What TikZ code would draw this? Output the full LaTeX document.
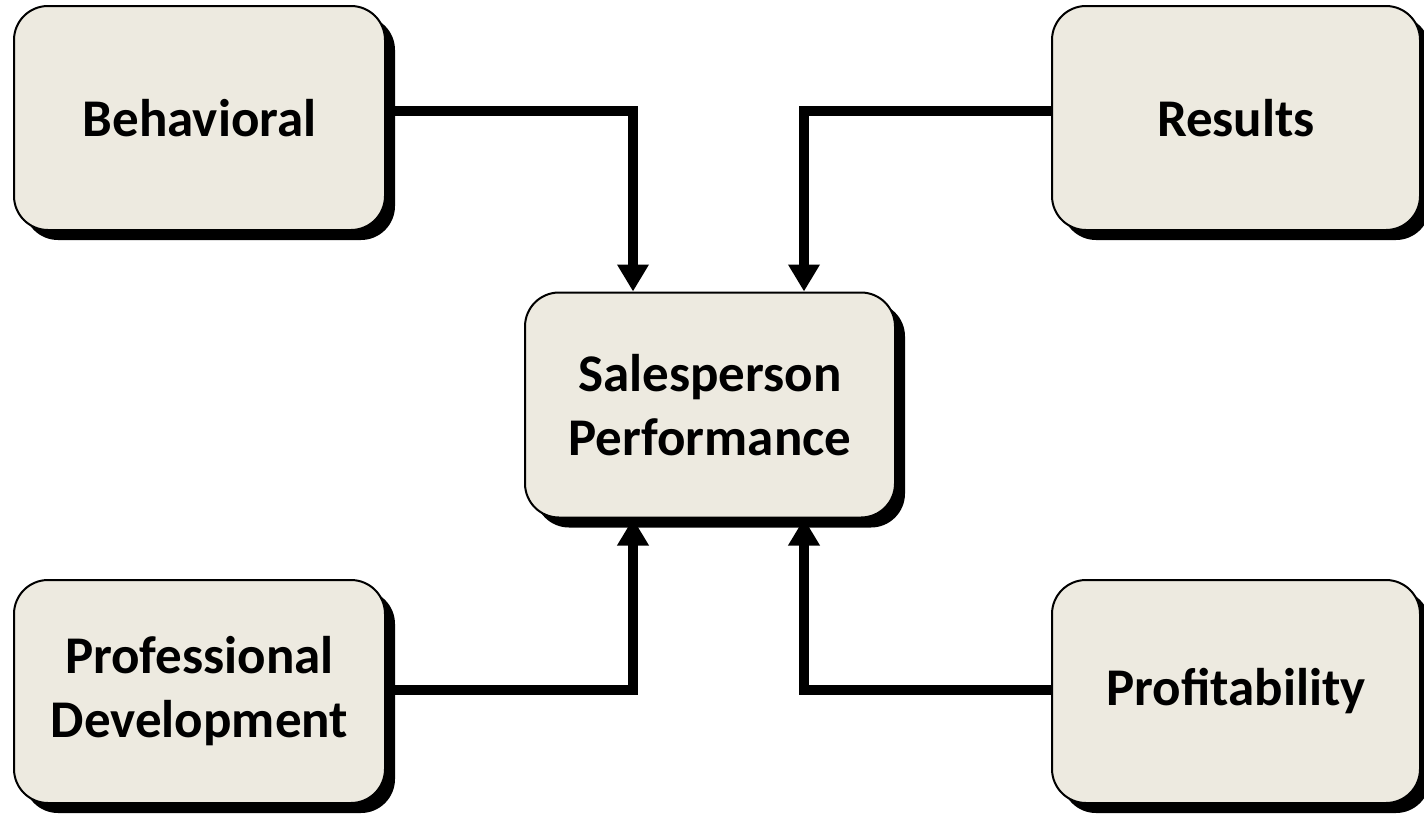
\documentclass[tikz,border=0pt]{standalone}
\usepackage{fontspec}
\setmainfont{Carlito}
\usetikzlibrary{arrows.meta,shadows,calc}
\definecolor{boxfill}{RGB}{237,234,224}
\begin{document}
\begin{tikzpicture}[x=1pt,y=-1pt,
  card/.style={draw=black, line width=2pt, fill=boxfill, rounded corners=34pt,
    inner sep=0pt, align=center, font=\fontsize{53}{64}\selectfont\bfseries,
    drop shadow={shadow xshift=10pt, shadow yshift=-10pt, fill=black, opacity=1}},
  link/.style={line width=10pt, -{Triangle[width=30pt,length=27pt]}}]
\useasboundingbox (0,0) rectangle (1424,814);
\node[card, minimum width=371pt, minimum height=224pt] (beh) at (199.5,118) {Behavioral};
\node[card, minimum width=368pt, minimum height=224pt] (res) at (1236,118) {Results};
\node[card, minimum width=370pt, minimum height=225pt] (sp) at (710,405) {Salesperson\\Performance};
\node[card, minimum width=371pt, minimum height=223pt] (pd) at (199.5,691.5) {Professional\\Development};
\node[card, minimum width=368pt, minimum height=223pt] (pr) at (1236,691.5) {Profitability};
\coordinate (tl) at (633,111);
\coordinate (tr) at (804,111);
\coordinate (bl) at (633,690);
\coordinate (br) at (804,690);
\draw[link] (beh.east |- tl) -- (tl) -- (sp.north -| tl);
\draw[link] (res.west |- tr) -- (tr) -- (sp.north -| tr);
\draw[link] (pd.east |- bl) -- (bl) -- (sp.south -| bl);
\draw[link] (pr.west |- br) -- (br) -- (sp.south -| br);
\end{tikzpicture}
\end{document}
